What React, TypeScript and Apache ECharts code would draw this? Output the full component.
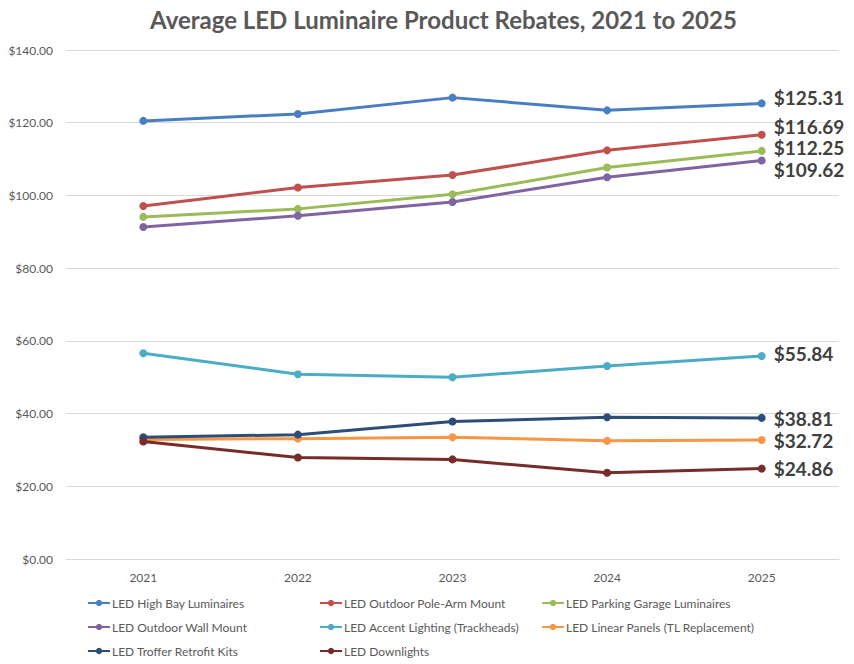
import React, { useEffect, useRef } from "react";
import * as echarts from "echarts";

const years = ["2021", "2022", "2023", "2024", "2025"];
const seriesNames = [
  "LED High Bay Luminaires",
  "LED Outdoor Pole-Arm Mount",
  "LED Parking Garage Luminaires",
  "LED Outdoor Wall Mount",
  "LED Accent Lighting (Trackheads)",
  "LED Linear Panels (TL Replacement)",
  "LED Troffer Retrofit Kits",
  "LED Downlights",
];
const highBay = [120.5, 122.4, 126.9, 123.4, 125.31];
const poleArm = [97.1, 102.2, 105.6, 112.4, 116.69];
const parking = [94.1, 96.3, 100.3, 107.7, 112.25];
const wallMount = [91.3, 94.4, 98.2, 105.0, 109.62];
const accent = [56.6, 50.8, 50.0, 53.1, 55.84];
const linear = [32.9, 33.1, 33.5, 32.5, 32.72];
const troffer = [33.5, 34.2, 37.8, 39.0, 38.81];
const downlights = [32.3, 27.9, 27.4, 23.7, 24.86];
const colors = ["#4A7EC2", "#C0504D", "#9BBB59", "#8064A2", "#4BACC6", "#F79646", "#2C4D75", "#772C2A"];
const labelOffsets = [[0, -6], [0, -8], [0, -3], [0, 9], [0, -2], [0, 0], [0, 1], [0, 0]];

export default function App() {
  const ref = useRef<HTMLDivElement>(null);
  useEffect(() => {
    if (!ref.current) return;
    const chart = echarts.init(ref.current, null, { renderer: "svg" });
    const allData = [highBay, poleArm, parking, wallMount, accent, linear, troffer, downlights];
    const font = "Lato, 'Open Sans', sans-serif";
    const series = allData.map((d, i) => ({
      name: seriesNames[i],
      type: "line",
      data: d.map((v, j) =>
        j === d.length - 1
          ? {
              value: v,
              label: {
                show: true,
                position: "right",
                distance: 8,
                offset: labelOffsets[i],
                formatter: (p: any) => "$" + Number(p.value).toFixed(2),
                color: "#404040",
                fontWeight: "bold",
                fontSize: 19,
                fontFamily: font,
              },
            }
          : v
      ),
      color: colors[i],
      symbol: "circle",
      symbolSize: 8,
      lineStyle: { width: 3, color: colors[i] },
      itemStyle: { color: colors[i] },
    }));
    const legendCommon = {
      orient: "vertical",
      top: 592,
      itemGap: 12,
      itemWidth: 22,
      itemHeight: 8,
      textStyle: { color: "#595959", fontSize: 12, fontFamily: font, padding: [0, 0, 0, -3] },
    };
    chart.setOption({
      animation: false,
      title: {
        text: "Average LED Luminaire Product Rebates, 2021 to 2025",
        left: 145,
        top: 2,
        textStyle: { color: "#595959", fontSize: 24, fontWeight: "bold", fontFamily: font },
      },
      grid: { left: 66, right: 15, top: 50, bottom: 105, containLabel: false },
      legend: [
        { ...legendCommon, left: 82, data: [seriesNames[0], seriesNames[3], seriesNames[6]] },
        { ...legendCommon, left: 314, data: [seriesNames[1], seriesNames[4], seriesNames[7]] },
        { ...legendCommon, left: 536, data: [seriesNames[2], seriesNames[5]] },
      ],
      xAxis: {
        type: "category",
        data: years,
        axisLine: { lineStyle: { color: "#D9D9D9" } },
        axisTick: { show: false },
        axisLabel: { color: "#595959", fontSize: 12, fontFamily: font, margin: 12 },
      },
      yAxis: {
        type: "value",
        min: 0,
        max: 140,
        interval: 20,
        axisLine: { show: false },
        axisTick: { show: false },
        splitLine: { lineStyle: { color: "#D9D9D9" } },
        axisLabel: {
          color: "#595959",
          fontSize: 12,
          fontFamily: font,
          margin: 13,
          formatter: (v: number) => "$" + v.toFixed(2),
        },
      },
      series,
    });
    return () => chart.dispose();
  }, []);
  return <div ref={ref} style={{ width: 854, height: 664, position: "absolute", left: 0, top: 0 }} />;
}
